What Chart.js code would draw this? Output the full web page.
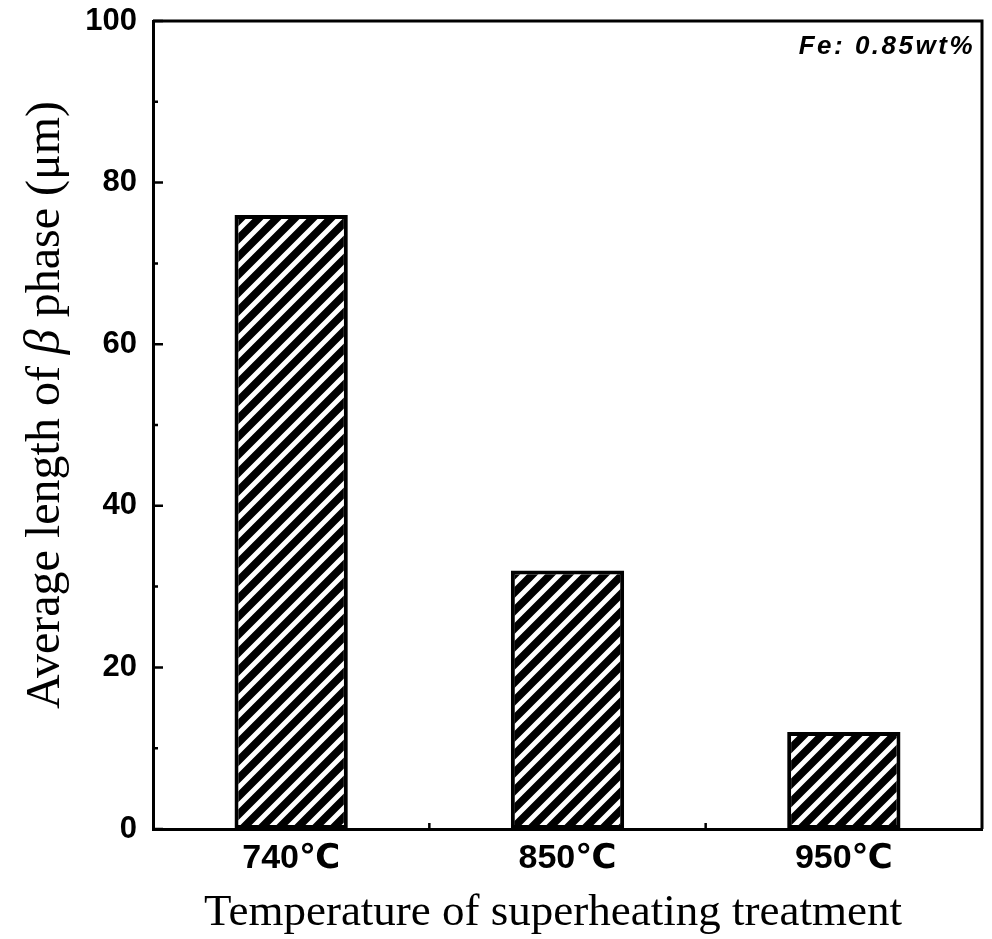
<!DOCTYPE html>
<html>
<head>
<meta charset="utf-8">
<script src="https://cdn.jsdelivr.net/npm/chart.js@4.4.1/dist/chart.umd.min.js"></script>
<style>
  html, body { margin: 0; padding: 0; background: #fff; }
  #wrap { width: 992px; height: 939px; }
</style>
</head>
<body>
<div id="wrap"><canvas id="myChart" width="992" height="939"></canvas></div>
<script>
// data
var categories = ['740\u2103', '850\u2103', '950\u2103'];
var avgLength = [76, 32, 12];
var yTicks = [0, 20, 40, 60, 80, 100];
var yMinorTicks = [10, 30, 50, 70, 90];
var noteText = 'Fe: 0.85wt%';
var xTitle = 'Temperature of superheating treatment';

// diagonal hatch like the scanned bars
function makeHatch() {
  var s = 18;
  var c = document.createElement('canvas');
  c.width = s; c.height = s;
  var g = c.getContext('2d');
  g.fillStyle = '#000';
  g.fillRect(0, 0, s, s);
  g.strokeStyle = '#fff';
  g.lineWidth = 5;
  g.beginPath();
  for (var k = 0; k <= 2; k++) {
    var cc = k * s;
    g.moveTo(cc + s, -s);
    g.lineTo(cc - 2 * s, 2 * s);
  }
  g.stroke();
  return g.createPattern(c, 'repeat');
}

// frame, inward ticks, titles, note text
var extras = {
  id: 'extras',
  afterDraw: function (chart) {
    var ctx = chart.ctx;
    var a = chart.chartArea;
    var ys = chart.scales.y;
    var xs = chart.scales.x;
    ctx.save();
    ctx.strokeStyle = '#000';
    ctx.lineWidth = 3;
    ctx.beginPath();
    ctx.moveTo(a.left, a.top);
    ctx.lineTo(a.right, a.top);
    ctx.lineTo(a.right, a.bottom);
    ctx.stroke();

    ctx.lineWidth = 2.5;
    ctx.beginPath();
    yTicks.forEach(function (v) {
      var p = ys.getPixelForValue(v);
      ctx.moveTo(a.left, p);
      ctx.lineTo(a.left + 10, p);
    });
    yMinorTicks.forEach(function (v) {
      var p = ys.getPixelForValue(v);
      ctx.moveTo(a.left, p);
      ctx.lineTo(a.left + 5, p);
    });
    for (var i = 1; i < categories.length; i++) {
      var px = (xs.getPixelForValue(i - 1) + xs.getPixelForValue(i)) / 2;
      ctx.moveTo(px, a.bottom);
      ctx.lineTo(px, a.bottom - 6);
    }
    ctx.stroke();

    // x axis title
    ctx.fillStyle = '#000';
    ctx.font = '45px "Liberation Serif"';
    ctx.textAlign = 'center';
    ctx.textBaseline = 'alphabetic';
    ctx.fillText(xTitle, 553, 925);

    // y axis title
    var parts = [
      { t: 'Average length of ', f: '48px "Liberation Serif"' },
      { t: '\u03b2', f: 'italic 50px "Liberation Serif"' },
      { t: ' phase (\u03bcm)', f: '48px "Liberation Serif"' }
    ];
    var total = 0;
    parts.forEach(function (p) { ctx.font = p.f; p.w = ctx.measureText(p.t).width; total += p.w; });
    ctx.translate(59, 405);
    ctx.rotate(-Math.PI / 2);
    ctx.textAlign = 'left';
    var x0 = -total / 2;
    parts.forEach(function (p) { ctx.font = p.f; ctx.fillText(p.t, x0, 0); x0 += p.w; });
    ctx.restore();

    ctx.save();
    ctx.fillStyle = '#000';
    ctx.font = 'italic bold 26px "Liberation Sans"';
    ctx.letterSpacing = '2.5px';
    ctx.textAlign = 'right';
    ctx.textBaseline = 'alphabetic';
    ctx.fillText(noteText, a.right - 7, a.top + 33);
    ctx.restore();
  }
};

var ctx = document.getElementById('myChart').getContext('2d');
var chart = new Chart(ctx, {
  type: 'bar',
  data: {
    labels: categories,
    datasets: [{
      data: avgLength,
      backgroundColor: makeHatch(),
      borderColor: '#000',
      borderWidth: 4,
      borderSkipped: false,
      categoryPercentage: 1.0,
      barPercentage: 0.41
    }]
  },
  options: {
    responsive: false,
    animation: false,
    layout: { padding: { left: 83, right: 10, top: 21, bottom: 0 } },
    plugins: {
      legend: { display: false },
      tooltip: { enabled: false }
    },
    scales: {
      x: {
        afterFit: function (scale) {
          scale.height = 110;
          scale.paddingLeft = 0;
          scale.paddingRight = 0;
        },
        grid: { display: false, drawTicks: false },
        border: { display: true, color: '#000', width: 3 },
        ticks: {
          color: '#000',
          padding: 9,
          font: { family: '"Liberation Sans", "DejaVu Sans"', size: 34, weight: 'bold' }
        }
      },
      y: {
        min: 0,
        max: 100,
        afterFit: function (scale) {
          scale.width = 70;
          scale.paddingTop = 0;
          scale.paddingBottom = 0;
        },
        grid: { display: false, drawTicks: false },
        border: { display: true, color: '#000', width: 3 },
        ticks: {
          stepSize: 20,
          color: '#000',
          padding: 16,
          font: { family: '"Liberation Sans"', size: 31, weight: 'bold' }
        }
      }
    }
  },
  plugins: [extras]
});
</script>
</body>
</html>
